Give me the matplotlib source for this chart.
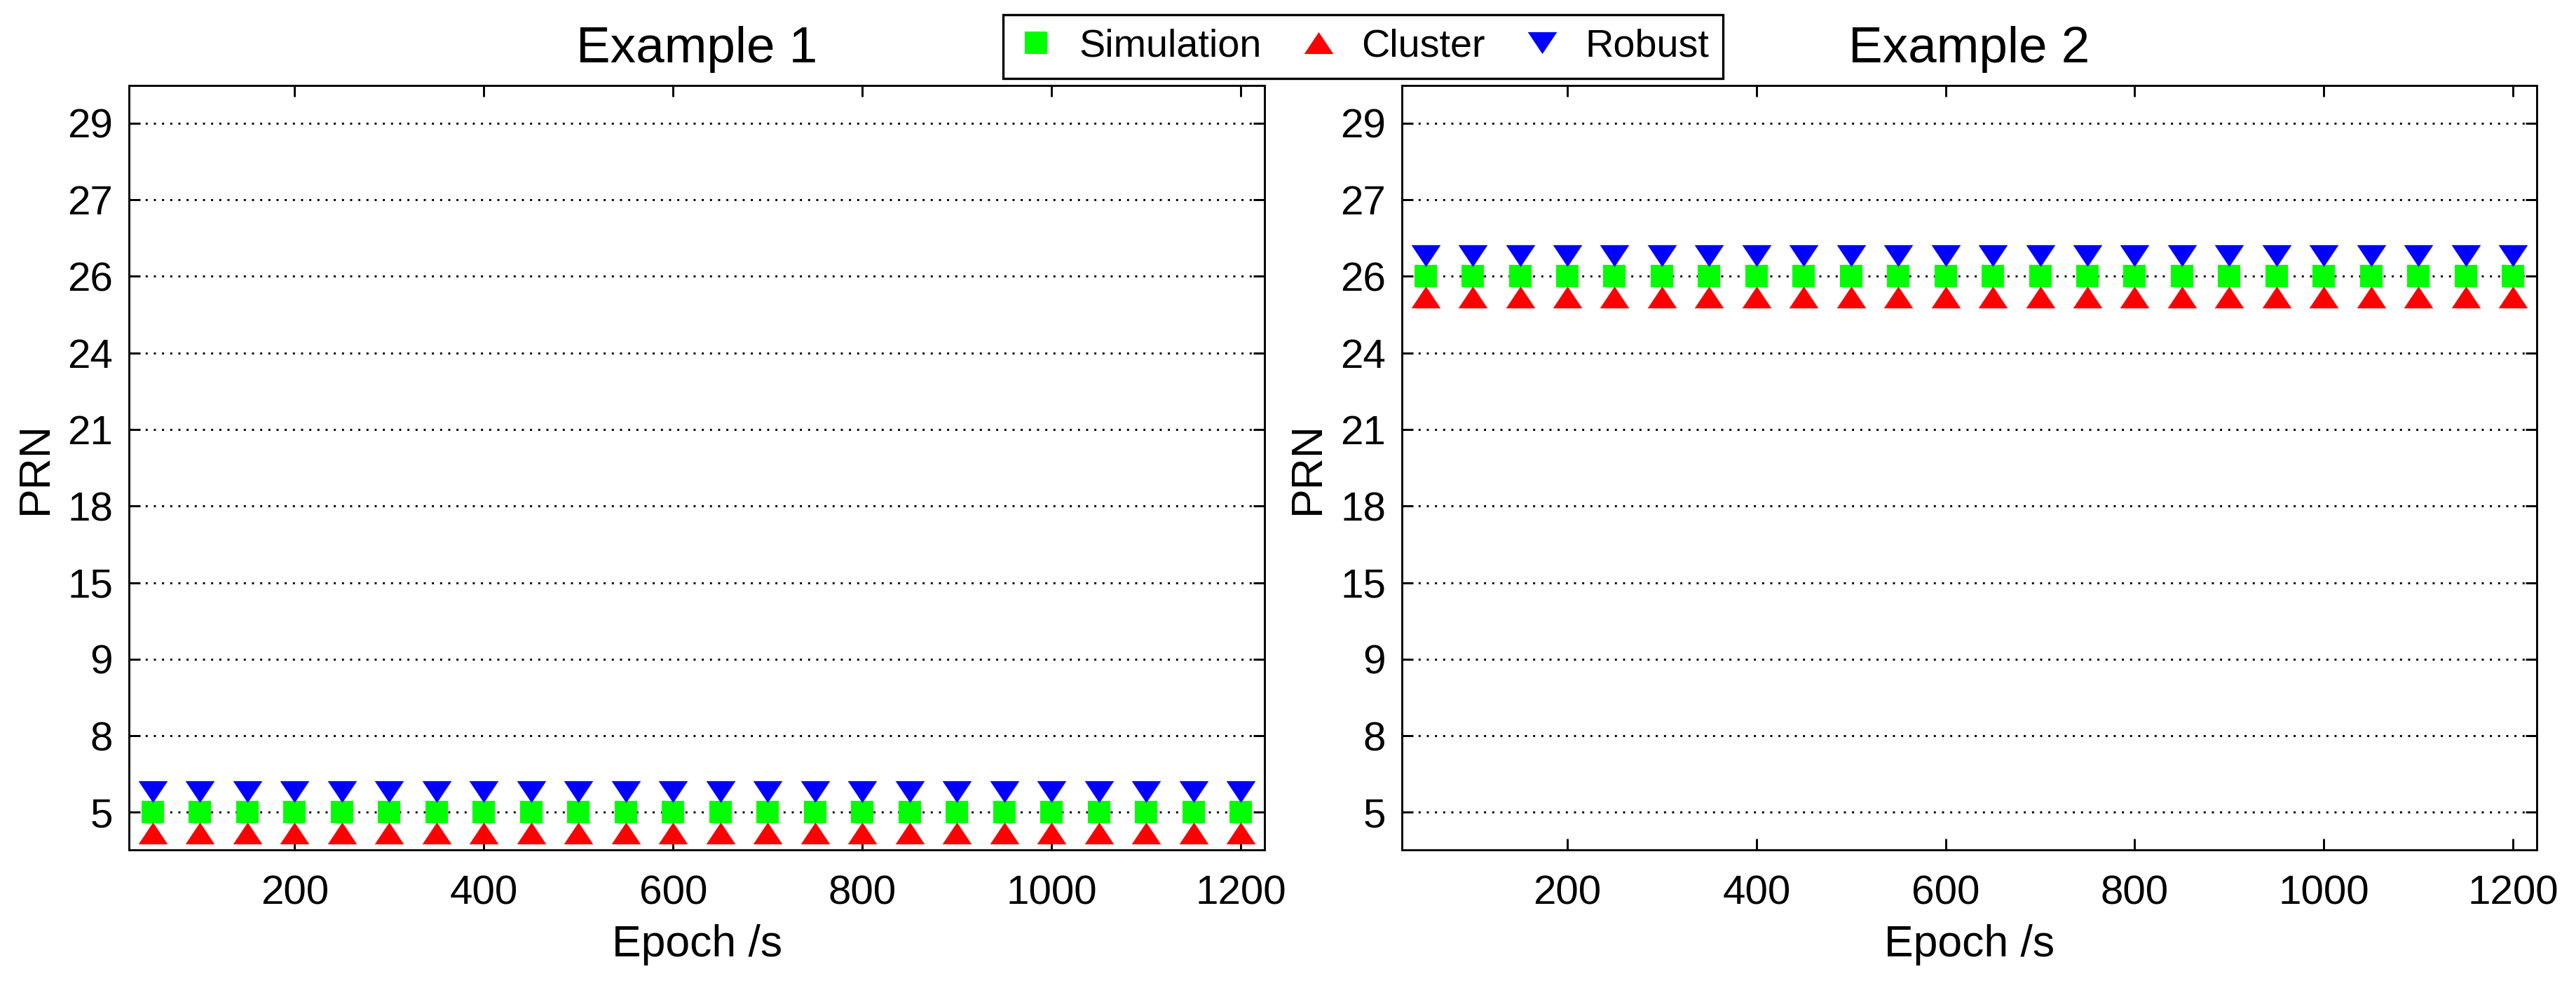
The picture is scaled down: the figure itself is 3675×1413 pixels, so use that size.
import matplotlib.pyplot as plt


# PRN detection diagram, two examples side by side

epochs = [50, 100, 150, 200, 250, 300, 350, 400, 450, 500, 550, 600,
          650, 700, 750, 800, 850, 900, 950, 1000, 1050, 1100, 1150, 1200]

prn_labels = [5, 8, 9, 15, 18, 21, 24, 26, 27, 29]

sim_1 = [5, 5, 5, 5, 5, 5, 5, 5, 5, 5, 5, 5, 5, 5, 5, 5, 5, 5, 5, 5, 5, 5, 5, 5]
cluster_1 = [5, 5, 5, 5, 5, 5, 5, 5, 5, 5, 5, 5, 5, 5, 5, 5, 5, 5, 5, 5, 5, 5, 5, 5]
robust_1 = [5, 5, 5, 5, 5, 5, 5, 5, 5, 5, 5, 5, 5, 5, 5, 5, 5, 5, 5, 5, 5, 5, 5, 5]

sim_2 = [26, 26, 26, 26, 26, 26, 26, 26, 26, 26, 26, 26,
         26, 26, 26, 26, 26, 26, 26, 26, 26, 26, 26, 26]
cluster_2 = [26, 26, 26, 26, 26, 26, 26, 26, 26, 26, 26, 26,
             26, 26, 26, 26, 26, 26, 26, 26, 26, 26, 26, 26]
robust_2 = [26, 26, 26, 26, 26, 26, 26, 26, 26, 26, 26, 26,
            26, 26, 26, 26, 26, 26, 26, 26, 26, 26, 26, 26]

titles = ['Example 1', 'Example 2']

plt.rcParams.update({'font.family': ['Liberation Sans', 'DejaVu Sans'], 'font.size': 14.0})

# markers: MATLAB-like wide triangles
tri_up = [(-1, -0.75), (1, -0.75), (0, 0.75)]
tri_down = [(-1, 0.75), (1, 0.75), (0, -0.75)]

# vertical shift of the markers so they do not overlap
shift = 0.27


def to_idx(values, offset):
    return [prn_labels.index(v) + offset for v in values]


fig = plt.figure(figsize=(12.25, 4.71), dpi=300)

ax1 = fig.add_axes([0.0501, 0.1415, 0.4408, 0.7721])
ax2 = fig.add_axes([0.5442, 0.1415, 0.4405, 0.7721])

data = [(sim_1, cluster_1, robust_1), (sim_2, cluster_2, robust_2)]

for ax, (s, c, r), title in zip([ax1, ax2], data, titles):
    ax.set_axisbelow(True)
    ax.yaxis.grid(True, linestyle=(0, (1, 3)), color='black', linewidth=0.7)

    lns1 = ax.plot(epochs, to_idx(s, 0), linestyle='none', marker='s', markersize=7.6,
                   markeredgewidth=0, color='#00ff00', label='Simulation')
    lns2 = ax.plot(epochs, to_idx(c, -shift), linestyle='none', marker=tri_up, markersize=10,
                   markeredgewidth=0, color='#ff0000', label='Cluster')
    lns3 = ax.plot(epochs, to_idx(r, shift), linestyle='none', marker=tri_down, markersize=10,
                   markeredgewidth=0, color='#0000ff', label='Robust')

    ax.set_xlim(25, 1225)
    ax.set_ylim(-0.49, 9.49)
    ax.set_xticks([200, 400, 600, 800, 1000, 1200])
    ax.set_yticks(range(len(prn_labels)))
    ax.set_yticklabels([str(p) for p in prn_labels])

    ax.tick_params(axis='both', direction='in', length=3.8, width=0.7, top=True, right=True,
                   labelsize=14, colors='black')
    ax.tick_params(axis='x', pad=8.5)
    ax.tick_params(axis='y', pad=5.5)
    for sp in ax.spines.values():
        sp.set_linewidth(0.7)

    ax.set_title(title, fontsize=17.5, pad=8)
    ax.set_xlabel('Epoch /s', fontsize=15, labelpad=4)
    ax.set_ylabel('PRN', fontsize=15, labelpad=4)

lns = lns1 + lns2 + lns3
labs = [l.get_label() for l in lns]

leg = fig.legend(lns, labs, loc='upper center', bbox_to_anchor=(0.529, 0.985), ncol=3,
                 fontsize=13.4, frameon=True, fancybox=False, edgecolor='black', framealpha=1,
                 handlelength=1.0, handletextpad=0.6, columnspacing=0.95, borderpad=0.35,
                 borderaxespad=0)
leg.get_frame().set_linewidth(0.8)

plt.savefig('out.png', dpi=300)
plt.close()
